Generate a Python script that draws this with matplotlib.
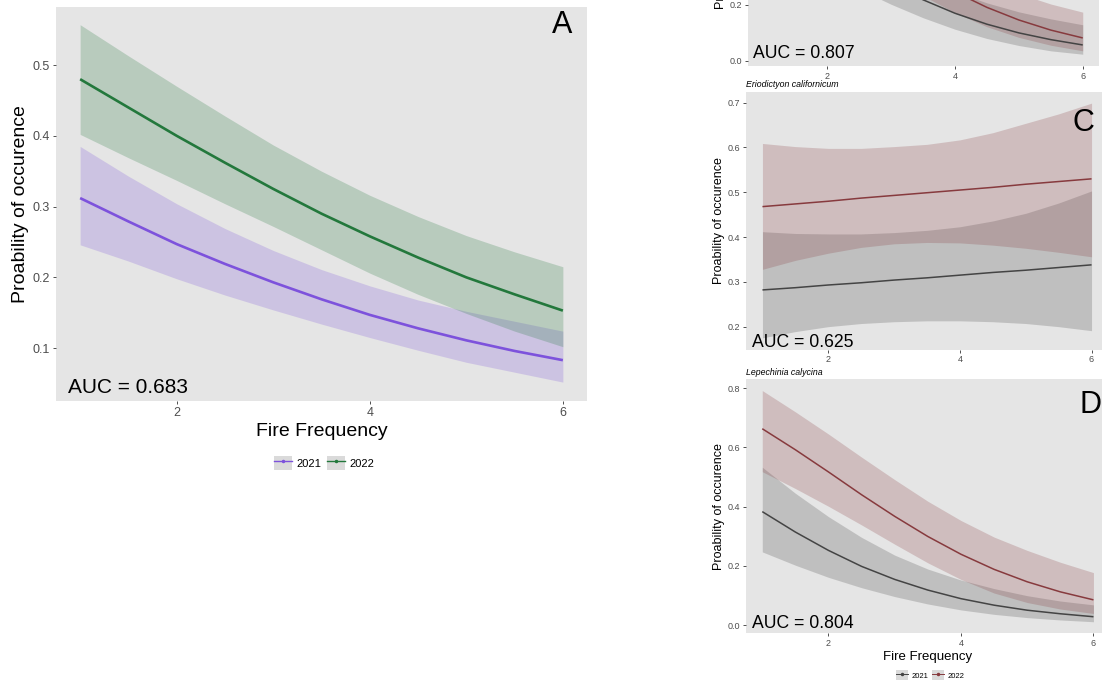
import matplotlib
matplotlib.use("Agg")
import matplotlib.pyplot as plt
from matplotlib.patches import Patch
from matplotlib.lines import Line2D
from matplotlib.ticker import FormatStrFormatter

plt.rcParams["font.family"] = ["Liberation Sans", "DejaVu Sans"]

# fire frequency grid used for every fitted curve
fire = [1.0, 1.5, 2.0, 2.5, 3.0, 3.5, 4.0, 4.5, 5.0, 5.5, 6.0]

# panel A (all species), 2021 and 2022 fits with 95% bands
a21_fit = [0.312, 0.279, 0.247, 0.219, 0.193, 0.169, 0.147, 0.128, 0.111, 0.096, 0.083]
a21_hi = [0.385, 0.343, 0.304, 0.269, 0.238, 0.211, 0.188, 0.168, 0.152, 0.138, 0.124]
a21_lo = [0.246, 0.223, 0.198, 0.175, 0.154, 0.134, 0.115, 0.097, 0.080, 0.066, 0.052]
a22_fit = [0.480, 0.440, 0.400, 0.362, 0.325, 0.290, 0.258, 0.228, 0.200, 0.176, 0.153]
a22_hi = [0.557, 0.513, 0.470, 0.428, 0.387, 0.350, 0.316, 0.286, 0.259, 0.236, 0.215]
a22_lo = [0.402, 0.369, 0.337, 0.304, 0.272, 0.239, 0.206, 0.176, 0.149, 0.124, 0.102]

# panel B (mostly cut off at the top of the figure)
b21_fit = [0.562, 0.486, 0.410, 0.339, 0.274, 0.218, 0.170, 0.131, 0.100, 0.076, 0.057]
b21_hi = [0.692, 0.607, 0.517, 0.433, 0.360, 0.297, 0.247, 0.207, 0.175, 0.150, 0.129]
b21_lo = [0.423, 0.367, 0.312, 0.256, 0.202, 0.154, 0.113, 0.080, 0.055, 0.036, 0.024]
b22_fit = [0.696, 0.624, 0.545, 0.464, 0.385, 0.311, 0.246, 0.191, 0.146, 0.110, 0.082]
b22_hi = [0.799, 0.728, 0.646, 0.561, 0.478, 0.402, 0.338, 0.286, 0.240, 0.203, 0.174]
b22_lo = [0.570, 0.506, 0.440, 0.369, 0.299, 0.232, 0.172, 0.122, 0.084, 0.056, 0.036]

# panel C, Eriodictyon californicum
c21_fit = [0.282, 0.287, 0.293, 0.298, 0.304, 0.309, 0.315, 0.321, 0.326, 0.332, 0.338]
c21_hi = [0.412, 0.408, 0.407, 0.407, 0.410, 0.415, 0.423, 0.436, 0.453, 0.476, 0.503]
c21_lo = [0.175, 0.189, 0.200, 0.207, 0.211, 0.213, 0.213, 0.211, 0.207, 0.200, 0.191]
c22_fit = [0.468, 0.474, 0.480, 0.487, 0.493, 0.499, 0.505, 0.511, 0.518, 0.524, 0.530]
c22_hi = [0.609, 0.602, 0.598, 0.598, 0.602, 0.607, 0.617, 0.633, 0.654, 0.675, 0.699]
c22_lo = [0.328, 0.348, 0.364, 0.377, 0.385, 0.388, 0.387, 0.382, 0.375, 0.366, 0.356]

# panel D, Lepechinia calycina
d21_fit = [0.383, 0.314, 0.252, 0.198, 0.154, 0.118, 0.089, 0.067, 0.050, 0.038, 0.028]
d21_hi = [0.533, 0.445, 0.366, 0.296, 0.236, 0.189, 0.152, 0.123, 0.099, 0.081, 0.068]
d21_lo = [0.247, 0.202, 0.161, 0.126, 0.096, 0.071, 0.051, 0.036, 0.025, 0.017, 0.011]
d22_fit = [0.663, 0.592, 0.517, 0.440, 0.367, 0.299, 0.239, 0.188, 0.146, 0.112, 0.085]
d22_hi = [0.792, 0.720, 0.645, 0.567, 0.491, 0.418, 0.353, 0.297, 0.252, 0.212, 0.177]
d22_lo = [0.518, 0.461, 0.401, 0.338, 0.273, 0.210, 0.154, 0.108, 0.076, 0.054, 0.039]

years = ["2021", "2022"]
auc = {"A": "0.683", "B": "0.807", "C": "0.625", "D": "0.804"}

W, H = 1102, 683
BG = "#E5E5E5"
TXT = "#4D4D4D"
PURPLE, GREEN = "#7D52DC", "#23783C"
GREY, RED = "#444444", "#873A3E"


def box(l, t, r, b):
    return [l / W, 1 - b / H, (r - l) / W, (b - t) / H]


def panel(ax, series, ylim, yticks, tick_fs, lw):
    ax.set_facecolor(BG)
    for s in ax.spines.values():
        s.set_visible(False)
    for fit, hi, lo, col in series:
        ax.fill_between(fire, lo, hi, color=col, alpha=0.23, linewidth=0)
    for fit, hi, lo, col in series:
        ax.plot(fire, fit, color=col, lw=lw, solid_capstyle="butt",
                solid_joinstyle="round")
    ax.set_xlim(0.75, 6.25)
    ax.set_ylim(*ylim)
    ax.set_xticks([2, 4, 6])
    ax.set_yticks(yticks)
    ax.yaxis.set_major_formatter(FormatStrFormatter("%.1f"))
    ax.tick_params(colors="#333333", labelcolor=TXT, labelsize=tick_fs,
                   length=2.2, width=0.6, pad=2)


fig = plt.figure(figsize=(W / 100, H / 100), dpi=100)

# --- panel A ---
axA = fig.add_axes(box(56, 7, 587, 401))
panel(axA, [(a21_fit, a21_hi, a21_lo, PURPLE), (a22_fit, a22_hi, a22_lo, GREEN)],
      (0.0253, 0.582), [0.1, 0.2, 0.3, 0.4, 0.5], 9, 1.9)
axA.set_xlabel("Fire Frequency", fontsize=14, labelpad=3)
axA.set_ylabel("Proability of occurence", fontsize=14, labelpad=3)
axA.text(0.0226, 0.0203, "AUC = " + auc["A"], transform=axA.transAxes, fontsize=15)
axA.text(0.972, 0.933, "A", transform=axA.transAxes, fontsize=22, ha="right")

# --- panel B (cut off) ---
axB = fig.add_axes(box(747.5, -174, 1098.7, 65.7))
panel(axB, [(b21_fit, b21_hi, b21_lo, GREY), (b22_fit, b22_hi, b22_lo, RED)],
      (-0.017, 0.838), [0.0, 0.2, 0.4, 0.6, 0.8], 6.5, 1.1)
axB.set_ylabel("Proability of occurence", fontsize=9, labelpad=1.5)
axB.text(0.017, 0.031, "AUC = " + auc["B"], transform=axB.transAxes, fontsize=12.7)

# --- panel C ---
axC = fig.add_axes(box(746, 91.5, 1108, 349.5))
panel(axC, [(c21_fit, c21_hi, c21_lo, GREY), (c22_fit, c22_hi, c22_lo, RED)],
      (0.149, 0.725), [0.2, 0.3, 0.4, 0.5, 0.6, 0.7], 6.5, 1.1)
axC.set_ylabel("Proability of occurence", fontsize=9, labelpad=1.5)
axC.set_title("Eriodictyon californicum", loc="left", fontstyle="italic",
              fontsize=6.3, pad=3)
axC.text(0.017, 0.011, "AUC = " + auc["C"], transform=axC.transAxes, fontsize=12.7)
axC.text(0.961, 0.848, "C", transform=axC.transAxes, fontsize=22, ha="right")

# --- panel D ---
axD = fig.add_axes(box(745.7, 379, 1110, 633.3))
panel(axD, [(d21_fit, d21_hi, d21_lo, GREY), (d22_fit, d22_hi, d22_lo, RED)],
      (-0.028, 0.831), [0.0, 0.2, 0.4, 0.6, 0.8], 6.5, 1.1)
axD.set_xlabel("Fire Frequency", fontsize=9.5, labelpad=2)
axD.set_ylabel("Proability of occurence", fontsize=9, labelpad=1.5)
axD.set_title("Lepechinia calycina", loc="left", fontstyle="italic",
              fontsize=6.3, pad=3)
axD.text(0.017, 0.0197, "AUC = " + auc["D"], transform=axD.transAxes, fontsize=12.7)
axD.text(0.977, 0.865, "D", transform=axD.transAxes, fontsize=22, ha="right")


# --- legends ---
def key(col, lw):
    return (Patch(facecolor="#DADADA", edgecolor="none"),
            Line2D([], [], color=col, lw=lw, marker="o", markersize=1.5))


fig.legend([key(PURPLE, 1.0), key(GREEN, 1.0)], years, loc="center",
           bbox_to_anchor=(324 / W, 1 - 463 / H), ncol=2, frameon=False,
           fontsize=8, handlelength=1.6, handleheight=1.6, handletextpad=0.4,
           columnspacing=0.5)
fig.legend([key(GREY, 0.7), key(RED, 0.7)], years, loc="center",
           bbox_to_anchor=(930 / W, 1 - 675 / H), ncol=2, frameon=False,
           fontsize=5.5, handlelength=1.6, handleheight=1.6, handletextpad=0.4,
           columnspacing=0.5)

fig.savefig("out.png", dpi=100)
